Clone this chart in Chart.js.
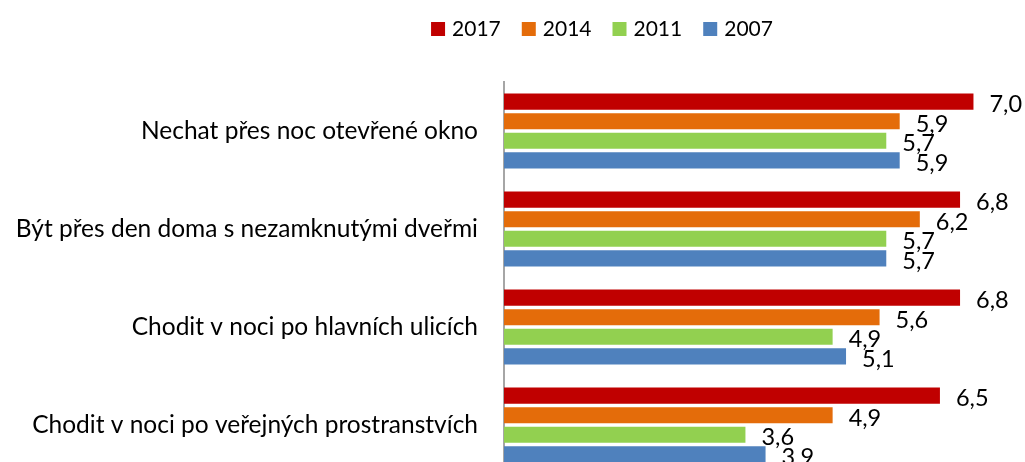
<!DOCTYPE html>
<html>
<head>
<meta charset="utf-8">
<script src="https://cdn.jsdelivr.net/npm/chart.js@4.4.1/dist/chart.umd.min.js"></script>
<style>
  html, body { margin: 0; padding: 0; background: #fff; overflow: hidden; }
  canvas { display: block; }
</style>
</head>
<body>
<canvas id="graf" width="1025" height="476"></canvas>
<script>
const categories = [
    "Nechat přes noc otevřené okno",
    "Být přes den doma s nezamknutými dveřmi",
    "Chodit v noci po hlavních ulicích",
    "Chodit v noci po veřejných prostranstvích"
];
const years = ["2017", "2014", "2011", "2007"];
const values2017 = [7.0, 6.8, 6.8, 6.5];
const values2014 = [5.9, 6.2, 5.6, 4.9];
const values2011 = [5.7, 5.7, 4.9, 3.6];
const values2007 = [5.9, 5.7, 5.1, 3.9];
const colors = ["#C00000", "#E46C0A", "#92D050", "#4F81BD"];

const FONT = "Lato, 'Open Sans', sans-serif";

// popisky hodnot na koncich sloupcu
const valueLabels = {
    id: "valueLabels",
    afterDatasetsDraw(chart) {
        const ctx = chart.ctx;
        ctx.save();
        ctx.font = "23.5px " + FONT;
        ctx.fillStyle = "#000";
        ctx.textAlign = "left";
        ctx.textBaseline = "middle";
        chart.data.datasets.forEach((ds, i) => {
            chart.getDatasetMeta(i).data.forEach((bar, j) => {
                const txt = ds.data[j].toFixed(1).replace(".", ",");
                ctx.fillText(txt, bar.x + 16, bar.y + 3);
            });
        });
        ctx.restore();
    }
};

// legenda nahore
const topLegend = {
    id: "topLegend",
    afterDraw(chart) {
        const ctx = chart.ctx;
        ctx.save();
        ctx.font = "21px " + FONT;
        ctx.textBaseline = "middle";
        const box = 14, gap = 7, space = 21;
        const widths = chart.data.datasets.map(ds => ctx.measureText(ds.label).width);
        let total = widths.reduce((a, w) => a + box + gap + w, 0) + space * (widths.length - 1);
        let x = 602 - total / 2;
        const y = 29;
        chart.data.datasets.forEach((ds, i) => {
            ctx.fillStyle = ds.backgroundColor;
            ctx.fillRect(x, y - box / 2, box, box);
            ctx.fillStyle = "#000";
            ctx.fillText(ds.label, x + box + gap, y);
            x += box + gap + widths[i] + space;
        });
        ctx.restore();
    }
};

const series = [values2017, values2014, values2011, values2007];

new Chart(document.getElementById("graf").getContext("2d"), {
    type: "bar",
    data: {
        labels: categories,
        datasets: years.map((y, i) => ({
            label: y,
            data: series[i],
            backgroundColor: colors[i],
            categoryPercentage: 0.8,
            barPercentage: 0.82
        }))
    },
    options: {
        indexAxis: "y",
        responsive: false,
        animation: false,
        layout: { padding: { top: 82, right: 18, bottom: 2, left: 0 } },
        plugins: {
            legend: { display: false },
            tooltip: { enabled: false }
        },
        scales: {
            x: {
                display: false,
                min: 0,
                max: 7.5
            },
            y: {
                afterFit(scale) {
                    scale.width = 504;
                    scale.paddingTop = 0;
                    scale.paddingBottom = 0;
                },
                grid: { display: false, drawTicks: false },
                border: { display: true, color: "#a6a6a6", width: 2 },
                ticks: {
                    color: "#000",
                    padding: 26,
                    font: { family: FONT, size: 24.5 }
                }
            }
        }
    },
    plugins: [valueLabels, topLegend]
});
</script>
</body>
</html>
